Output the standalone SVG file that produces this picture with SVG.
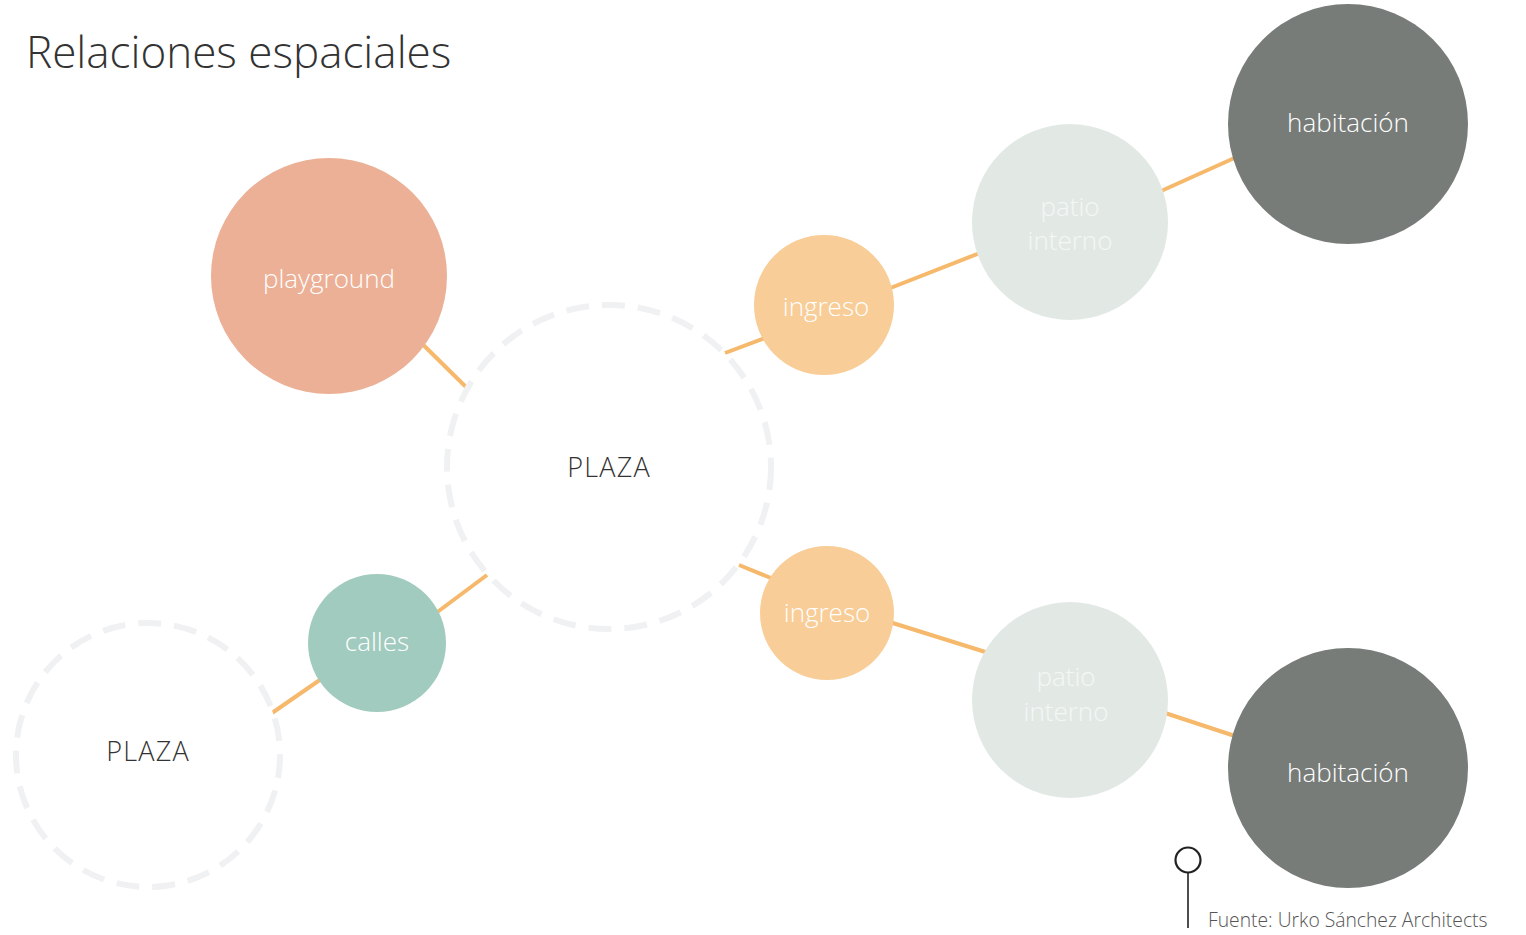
<svg xmlns="http://www.w3.org/2000/svg" width="1526" height="935" viewBox="0 0 1526 935">
<style>
  .lbl { font-family: "Open Sans", "Liberation Sans", sans-serif; font-weight: 300; font-size: 26px; text-anchor: middle; fill: #ffffff; }
  .pale { fill: #f4f7f5; }
  .dark { fill: #333333; font-size: 27px; letter-spacing: 1.2px; }
  .ring { fill: #ffffff; stroke: #f0f1f3; stroke-width: 6; stroke-dasharray: 23 13; }
  .conn { stroke: #f6b96c; stroke-width: 4; fill: none; }
  .title { font-family: "Open Sans", "Liberation Sans", sans-serif; font-weight: 300; font-size: 44px; fill: #333333; }
  .src { font-family: "Open Sans", "Liberation Sans", sans-serif; font-weight: 300; font-size: 19.3px; fill: #555555; }
</style>
<rect width="1526" height="935" fill="#ffffff"/>
<text class="title" x="26" y="68">Relaciones espaciales</text>

<g id="connectors">
  <line class="conn" x1="400" y1="322" x2="467" y2="388"/>
  <line class="conn" x1="725" y1="353" x2="800" y2="325"/>
  <line class="conn" x1="870" y1="296" x2="990" y2="249"/>
  <line class="conn" x1="1150" y1="196" x2="1250" y2="151"/>
  <line class="conn" x1="739" y1="565" x2="800" y2="590"/>
  <line class="conn" x1="880" y1="619" x2="995" y2="655"/>
  <line class="conn" x1="1150" y1="708" x2="1250" y2="741"/>
  <line class="conn" x1="487" y1="575" x2="420" y2="625"/>
  <line class="conn" x1="340" y1="666" x2="272" y2="713"/>
</g>

<g id="plaza-main">
  <circle class="ring" cx="609" cy="467" r="162"/>
  <text class="lbl dark" x="609" y="477">PLAZA</text>
</g>
<g id="plaza-small">
  <circle class="ring" cx="148" cy="755" r="132"/>
  <text class="lbl dark" x="148" y="761">PLAZA</text>
</g>
<g id="playground">
  <circle cx="329" cy="276" r="118" fill="#ecb096"/>
  <text class="lbl" x="329" y="288">playground</text>
</g>
<g id="calles">
  <circle cx="377" cy="643" r="69" fill="#a1cbbe"/>
  <text class="lbl" x="377" y="651">calles</text>
</g>
<g id="ingreso-top">
  <circle cx="824" cy="305" r="70" fill="#f8cd97"/>
  <text class="lbl" x="826" y="316">ingreso</text>
</g>
<g id="ingreso-bottom">
  <circle cx="827" cy="613" r="67" fill="#f8cd97"/>
  <text class="lbl" x="827" y="622">ingreso</text>
</g>
<g id="patio-top">
  <circle cx="1070" cy="222" r="98" fill="#e2e9e5"/>
  <text class="lbl pale" x="1070" y="216">patio</text>
  <text class="lbl pale" x="1070" y="250">interno</text>
</g>
<g id="patio-bottom">
  <circle cx="1070" cy="700" r="98" fill="#e2e9e5"/>
  <text class="lbl pale" x="1066" y="686">patio</text>
  <text class="lbl pale" x="1066" y="721">interno</text>
</g>
<g id="habitacion-top">
  <circle cx="1348" cy="124" r="120" fill="#777c79"/>
  <text class="lbl" x="1348" y="132">habitación</text>
</g>
<g id="habitacion-bottom">
  <circle cx="1348" cy="768" r="120" fill="#777c79"/>
  <text class="lbl" x="1348" y="782">habitación</text>
</g>

<g id="source">
  <circle cx="1188" cy="860" r="12.5" fill="#ffffff" stroke="#222222" stroke-width="2.2"/>
  <line x1="1188" y1="872" x2="1188" y2="928" stroke="#222222" stroke-width="1.6"/>
  <text class="src" x="1208" y="927">Fuente: Urko Sánchez Architects</text>
</g>
</svg>
